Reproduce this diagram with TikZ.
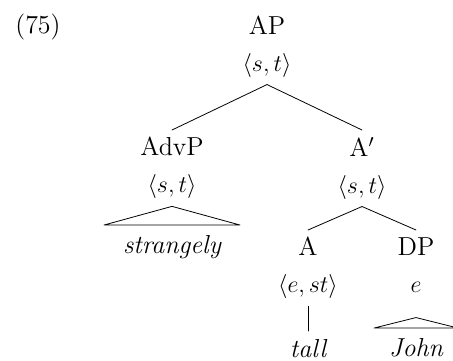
\documentclass[tikz,border=0pt]{standalone}
\begin{document}
\begin{tikzpicture}[x=0.5pt,y=-0.5pt,font=\fontsize{13}{18.5}\selectfont,line join=round,line cap=round,
		cat/.style={align=center,inner sep=3.5pt,anchor=north},
		leaf/.style={font=\fontsize{13}{18.5}\selectfont\itshape,inner ysep=5pt,anchor=north}]
	\useasboundingbox (0,0) rectangle (453,360);
	\node[anchor=base] (ex) at (38,33) {(75)};
	% categories with their types
	\node[cat] (ap) at (267,8.2) {AP\\$\langle s,t\rangle$};
	\node[cat] (advp) at (172,130) {AdvP\\$\langle s,t\rangle$};
	\node[cat] (abar) at (362,130) {A$'$\\$\langle s,t\rangle$};
	\node[cat] (a) at (308,230) {A\\$\langle e,st\rangle$};
	\node[cat] (dp) at (416,230) {DP\\$\vphantom{\langle}e$};
	% words
	\node[leaf,minimum width=67.5pt] (strangely) at (172,225) {strangely};
	\node[leaf,inner ysep=4pt] (tall) at (308,331) {tall};
	\node[leaf,minimum width=41.5pt] (john) at (416,328) {John};
	\draw (ap.south)--(advp.north);
	\draw (ap.south)--(abar.north);
	\draw (abar.south)--(a.north);
	\draw (abar.south)--(dp.north);
	\draw (a.south)--(tall.north);
	\draw (advp.south)--(strangely.north west)--(strangely.north east)--cycle;
	\draw ([yshift=-6pt]dp.south)--(john.north west)--(john.north east)--cycle;
\end{tikzpicture}
\end{document}
